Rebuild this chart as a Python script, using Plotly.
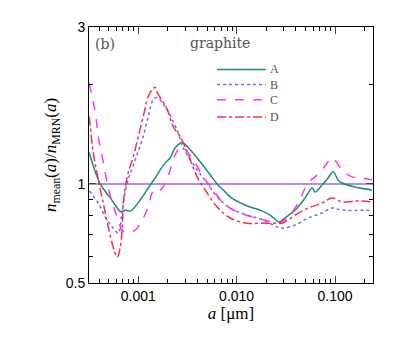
import math
import plotly.graph_objects as go

# ---- data ----
a_A = [3.18e-4, 4.11e-4, 5.20e-4, 6.72e-4, 7.38e-4, 8.29e-4, 1.048e-3, 1.324e-3, 1.488e-3, 1.673e-3,
       1.879e-3, 2.113e-3, 2.375e-3, 2.797e-3, 3.373e-3, 4.261e-3, 5.383e-3, 6.340e-3, 7.643e-3, 8.590e-3,
       1.279e-2, 1.733e-2, 2.188e-2, 2.701e-2, 2.896e-2, 3.926e-2, 4.959e-2, 5.842e-2, 6.266e-2, 7.379e-2,
       8.490e-2, 9.543e-2, 0.1073, 0.1178, 0.1596, 0.2375]
n_A = [1.244, 1.000, 0.907, 0.822, 0.833, 0.827, 0.894, 0.993, 1.043, 1.104,
       1.159, 1.201, 1.288, 1.335, 1.270, 1.168, 1.066, 1.000, 0.946, 0.913,
       0.857, 0.833, 0.804, 0.766, 0.777, 0.833, 0.907, 0.972, 0.946, 0.993,
       1.043, 1.089, 1.029, 1.007, 0.979, 0.959]

a_B = [3.18e-4, 3.93e-4, 4.62e-4, 5.45e-4, 6.26e-4, 6.88e-4, 7.73e-4, 9.32e-4, 1.098e-3, 1.264e-3,
       1.420e-3, 1.559e-3, 1.879e-3, 2.214e-3, 2.547e-3, 2.862e-3, 3.972e-3, 5.018e-3, 6.340e-3, 8.590e-3,
       1.279e-2, 1.858e-2, 2.577e-2, 2.896e-2, 3.926e-2, 5.319e-2, 7.379e-2, 9.322e-2, 0.1178, 0.2375]
n_B = [0.952, 0.875, 0.793, 0.740, 0.709, 0.833, 1.007, 1.184, 1.363, 1.602,
       1.805, 1.830, 1.718, 1.569, 1.432, 1.288, 1.104, 1.007, 0.913, 0.845,
       0.804, 0.777, 0.740, 0.734, 0.750, 0.788, 0.816, 0.845, 0.833, 0.833]

a_C = [3.18e-4, 3.66e-4, 3.93e-4, 4.31e-4, 4.84e-4, 5.45e-4, 6.12e-4, 6.88e-4, 7.91e-4, 9.32e-4,
       1.098e-3, 1.264e-3, 1.387e-3, 1.559e-3, 1.673e-3, 1.879e-3, 2.113e-3, 2.375e-3, 2.733e-3, 3.618e-3,
       4.570e-3, 5.773e-3, 7.294e-3, 1.012e-2, 1.471e-2, 2.348e-2, 2.701e-2, 3.333e-2, 4.211e-2, 5.319e-2,
       6.266e-2, 7.379e-2, 8.490e-2, 9.322e-2, 0.1048, 0.1178, 0.1488, 0.1879, 0.2375]
n_C = [2.020, 1.648, 1.392, 1.209, 1.007, 0.875, 0.793, 0.724, 0.714, 0.724,
       0.777, 0.851, 0.939, 0.972, 0.959, 1.007, 1.104, 1.227, 1.297, 1.184,
       1.051, 0.959, 0.875, 0.822, 0.793, 0.766, 0.760, 0.793, 0.875, 1.007,
       1.051, 1.104, 1.168, 1.201, 1.159, 1.104, 1.051, 1.043, 1.029]

a_D = [3.18e-4, 3.49e-4, 3.93e-4, 4.41e-4, 4.96e-4, 5.57e-4, 6.12e-4, 6.57e-4, 6.88e-4, 7.04e-4,
       7.38e-4, 7.91e-4, 8.90e-4, 1.000e-3, 1.124e-3, 1.264e-3, 1.420e-3, 1.488e-3, 1.559e-3, 1.673e-3,
       1.970e-3, 2.266e-3, 2.669e-3, 3.144e-3, 3.972e-3, 5.018e-3, 6.340e-3, 8.590e-3, 1.279e-2, 1.858e-2,
       2.577e-2, 2.896e-2, 3.926e-2, 5.319e-2, 7.379e-2, 9.322e-2, 0.1178, 0.1712, 0.2375]
n_D = [1.602, 1.244, 1.029, 0.875, 0.740, 0.642, 0.599, 0.642, 0.740, 0.875,
       0.979, 1.081, 1.209, 1.392, 1.602, 1.844, 1.950, 1.964, 1.896, 1.830,
       1.683, 1.493, 1.392, 1.252, 1.051, 0.939, 0.851, 0.788, 0.760, 0.760,
       0.760, 0.760, 0.804, 0.845, 0.875, 0.907, 0.882, 0.888, 0.882]

series_names = ["A", "B", "C", "D"]
ref_level = 1.0
x_limits = [3.16e-4, 0.243]
y_limits = [0.5, 3.0]
x_tickvals = [0.001, 0.01, 0.1]
x_ticktext = ["0.001", "0.010", "0.100"]
y_tickvals = [0.5, 1, 3]
y_ticktext = ["0.5", "1", "3"]

fig = go.Figure()

fig.add_trace(go.Scatter(x=x_limits, y=[ref_level, ref_level], mode="lines",
                         line=dict(color="#b38cf2", width=2), showlegend=False, hoverinfo="skip"))

styles = [
    dict(color="#1f8a80", width=1.5, dash="solid"),
    dict(color="#6a6aff", width=1.5, dash="dot"),
    dict(color="#ff33ff", width=1.5, dash="dash"),
    dict(color="#ff2a50", width=1.5, dash="dashdot"),
]
for name, xs, ys, st in zip(series_names, [a_A, a_B, a_C, a_D], [n_A, n_B, n_C, n_D], styles):
    fig.add_trace(go.Scatter(x=xs, y=ys, mode="lines", name=name, line=st, line_shape="spline",
                             showlegend=False))

# manual legend (paper coordinates)
leg_y = [0.834, 0.775, 0.716, 0.648]
for name, st, yy in zip(series_names, styles, leg_y):
    fig.add_shape(type="line", xref="paper", yref="paper", x0=0.451, x1=0.623, y0=yy, y1=yy,
                  line=dict(color=st["color"], width=st["width"], dash=st["dash"]))
    fig.add_annotation(text=name, xref="paper", yref="paper", x=0.632, y=yy, xanchor="left",
                       yanchor="middle", showarrow=False,
                       font=dict(family="Liberation Serif", size=12, color="#555555"))

minor_x = [m * 10 ** e for e in (-4, -3, -2, -1) for m in range(2, 10)]
minor_x = [v for v in minor_x if x_limits[0] <= v <= x_limits[1]]
minor_y = [0.6, 0.7, 0.8, 0.9, 2]

fig.update_layout(
    width=399, height=339,
    margin=dict(l=81, r=34, t=19, b=64),
    paper_bgcolor="white", plot_bgcolor="white",
    font=dict(family="Liberation Sans", size=14, color="black"),
    showlegend=False,
)

fig.update_xaxes(type="log", range=[math.log10(x_limits[0]), math.log10(x_limits[1])],
                 tickvals=x_tickvals, ticktext=x_ticktext, ticks="inside", ticklen=7,
                 showline=True, linecolor="black", linewidth=1, mirror="allticks",
                 showgrid=False, zeroline=False,
                 minor=dict(tickvals=minor_x, ticks="inside", ticklen=4, tickcolor="black", showgrid=False),
                 title=dict(text="<i>a</i> [μm]", font=dict(family="Liberation Serif", size=17), standoff=4))

fig.update_yaxes(type="log", range=[math.log10(y_limits[0]), math.log10(y_limits[1])],
                 tickvals=y_tickvals, ticktext=y_ticktext, ticks="inside", ticklen=7,
                 showline=True, linecolor="black", linewidth=1, mirror="allticks",
                 showgrid=False, zeroline=False,
                 minor=dict(tickvals=minor_y, ticks="inside", ticklen=4, tickcolor="black", showgrid=False),
                 title=dict(text="<i>n</i><sub>mean</sub>(<i>a</i>)/<i>n</i><sub>MRN</sub>(<i>a</i>)",
                            font=dict(family="Liberation Serif", size=17), standoff=4))

fig.add_annotation(text="(b)", xref="paper", yref="paper", x=0.014, y=0.933, xanchor="left", yanchor="middle",
                   showarrow=False, font=dict(family="DejaVu Serif", size=14, color="#555555"))
fig.add_annotation(text="graphite", xref="paper", yref="paper", x=0.46, y=0.937, xanchor="center",
                   yanchor="middle", showarrow=False,
                   font=dict(family="DejaVu Serif", size=14, color="#555555"))

fig.write_html("out.html")
